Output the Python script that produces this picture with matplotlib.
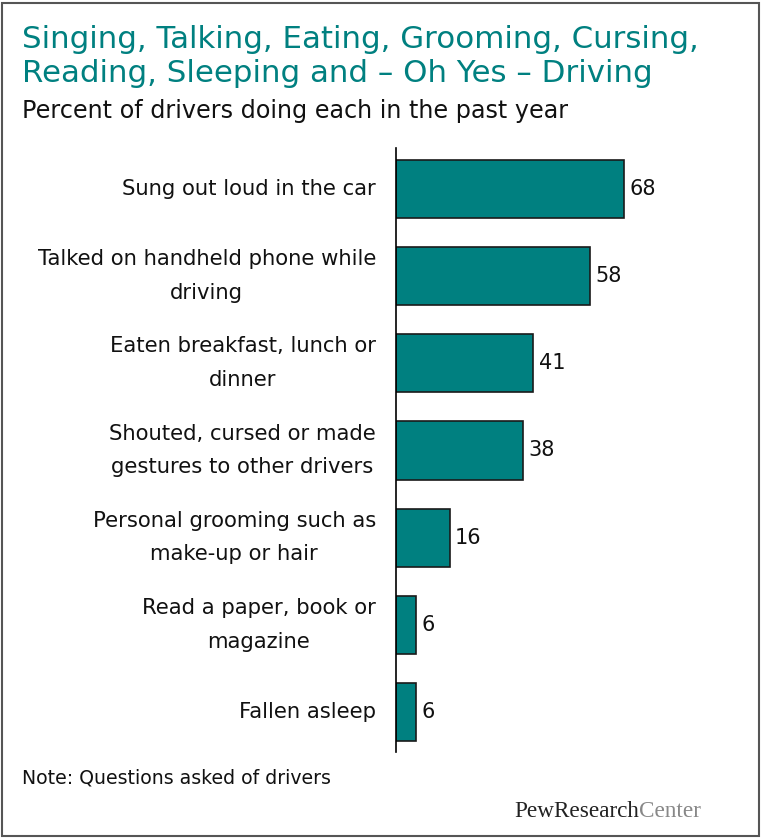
import matplotlib
matplotlib.use("Agg")
import matplotlib.pyplot as plt
from matplotlib.patches import Rectangle

categories = [
    "Sung out loud in the car",
    "Talked on handheld phone while\ndriving",
    "Eaten breakfast, lunch or\ndinner",
    "Shouted, cursed or made\ngestures to other drivers",
    "Personal grooming such as\nmake-up or hair",
    "Read a paper, book or\nmagazine",
    "Fallen asleep",
]
values = [68, 58, 41, 38, 16, 6, 6]

title = "Singing, Talking, Eating, Grooming, Cursing,\nReading, Sleeping and \u2013 Oh Yes \u2013 Driving"
subtitle = "Percent of drivers doing each in the past year"
note = "Note: Questions asked of drivers"

W, H = 762, 838
fig = plt.figure(figsize=(W / 100, H / 100), dpi=100)
teal = "#008080"

# border
fig.patches.append(Rectangle((2 / W, 2 / H), (W - 5) / W, (H - 5) / H, transform=fig.transFigure,
                             fill=False, edgecolor="#555555", linewidth=1.5))

ax = fig.add_axes([396 / W, 1 - 752 / H, 335.3 / W, (752 - 148) / H])
y = list(range(len(categories)))
ax.barh(y, values, height=0.667, color=teal, edgecolor="#1a1a1a", linewidth=1.2)
ax.set_xlim(0, 100)
ax.set_ylim(6.46, -0.47)
for s in ["top", "right", "bottom"]:
    ax.spines[s].set_visible(False)
ax.spines["left"].set_linewidth(1.2)
ax.spines["left"].set_color("#000000")
ax.set_xticks([])
ax.set_yticks([])
for i, (c, v) in enumerate(zip(categories, values)):
    ax.text(v + 1.6, i, str(v), va="center", ha="left", fontsize=15, color="#111111")
    ax.text(-6.0, i, c, va="center", ha="right", multialignment="center", fontsize=15.2,
            color="#111111", linespacing=1.85)

fig.text(22 / W, 1 - 25 / H, title, ha="left", va="top", fontsize=22.2, color=teal,
         linespacing=1.2)
fig.text(22 / W, 1 - 99 / H, subtitle, ha="left", va="top", fontsize=17.2, color="#111111")
fig.text(22 / W, 1 - 778 / H, note, ha="left", va="center", fontsize=13.6, color="#111111",
         family="Liberation Sans Narrow")
t1 = fig.text(514 / W, 1 - 811 / H, "PewResearch", ha="left", va="center", fontsize=16.7,
              color="#222222", family="Liberation Serif")
fig.canvas.draw()
bb = t1.get_window_extent()
fig.text(bb.x1 / W, 1 - 811 / H, "Center", ha="left", va="center", fontsize=16.7,
         color="#888888", family="Liberation Serif")

fig.savefig("out.png", dpi=100)
